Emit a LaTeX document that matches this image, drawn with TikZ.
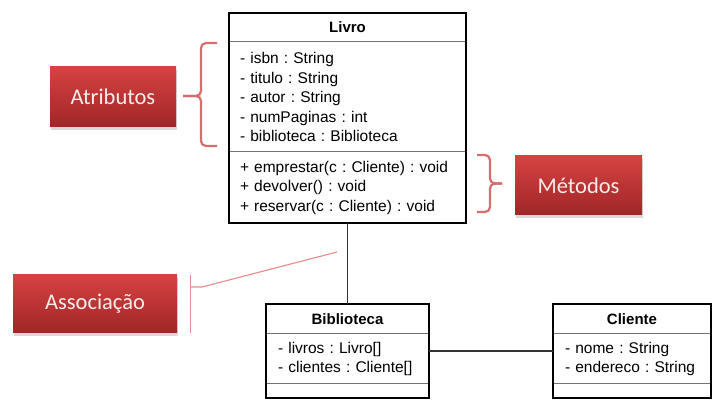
\documentclass[tikz,border=0pt]{standalone}
\usepackage{fontspec}
\setmainfont{Liberation Sans}
\newfontfamily\rotulofont{Carlito}
\usetikzlibrary{positioning, shadows}
\frenchspacing

\definecolor{rotuloalto}{RGB}{214,66,66}
\definecolor{rotulobaixo}{RGB}{160,38,38}
\definecolor{rotulotexto}{RGB}{247,236,236}
\definecolor{chave}{RGB}{214,110,110}
\definecolor{traco}{RGB}{226,140,140}

\begin{document}
\begin{tikzpicture}[x=1pt, y=-1pt,
	titulo/.style={rectangle, draw=black!55, line width=1pt, outer sep=0pt, inner sep=2pt, align=center, font=\fontsize{15}{19.5}\selectfont\bfseries},
	secao/.style={rectangle, draw=black!55, line width=1pt, outer sep=0pt, inner ysep=2pt, align=left, font=\fontsize{15.5}{19.5}\selectfont},
	moldura/.style={draw=black, line width=2.2pt},
	ligacao/.style={draw=black!80, line width=1.3pt},
	rotulo/.style={rectangle, top color=rotuloalto, bottom color=rotulobaixo, text=rotulotexto, font=\rotulofont\fontsize{22.5}{27}\selectfont, drop shadow={shadow xshift=1pt, shadow yshift=-3pt, opacity=0.3}},
	chaveta/.style={draw=chave, line width=2.2pt, rounded corners=5pt},
	fio/.style={draw=traco, line width=1.1pt}]
	\useasboundingbox (0,0) rectangle (724,414);
	\def\cx{347.5}
	\def\ky{319}
%%%% classe Livro
	\node[titulo, minimum width=237pt, minimum height=29pt] (livro) at (\cx,27.5) {Livro};
	\node[secao, text width=215pt, inner xsep=11pt, minimum height=110pt, below=0pt of livro] (livroattr)
	{- isbn : String\\- titulo : String\\- autor : String\\- numPaginas : int\\- biblioteca : Biblioteca};
	\node[secao, text width=215pt, inner xsep=11pt, minimum height=71pt, below=0pt of livroattr] (livroops)
	{+ emprestar(c : Cliente) : void\\+ devolver() : void\\+ reservar(c : Cliente) : void};
	\draw[moldura] (livro.north west) rectangle (livroops.south east);
%%%% classe Biblioteca
	\node[titulo, minimum width=163pt, minimum height=30pt] (biblio) at (\cx,\ky) {Biblioteca};
	\node[secao, text width=139pt, inner xsep=12pt, minimum height=50pt, below=0pt of biblio] (biblioattr)
	{- livros : Livro[]\\- clientes : Cliente[]};
	\node[secao, text width=139pt, inner xsep=12pt, minimum height=14pt, below=0pt of biblioattr] (biblioops) {};
	\draw[moldura] (biblio.north west) rectangle (biblioops.south east);
%%%% classe Cliente
	\node[titulo, minimum width=158pt, minimum height=30pt] (cliente) at (632,\ky) {Cliente};
	\node[secao, text width=134pt, inner xsep=12pt, minimum height=50pt, below=0pt of cliente] (clienteattr)
	{- nome : String\\- endereco : String};
	\node[secao, text width=134pt, inner xsep=12pt, minimum height=14pt, below=0pt of clienteattr] (clienteops) {};
	\draw[moldura] (cliente.north west) rectangle (clienteops.south east);
%%%% associacoes
	\draw[ligacao] (livroops.south) -- (biblio.north);
	\draw[ligacao] ([yshift=8pt]biblioattr.east) -- ([yshift=8pt]clienteattr.west);
%%%% rotulos
	\node[rotulo, minimum width=126pt, minimum height=60pt] (atributos) at (113,97) {Atributos};
	\node[rotulo, minimum width=127pt, minimum height=59pt] (metodos) at (578.5,185.5) {Métodos};
	\node[rotulo, minimum width=164pt, minimum height=58pt] (associacao) at (95,304) {Associação};
	\draw[chaveta] (217,43) -- (201,43) -- (201,96) -- (183,96);
	\draw[chaveta] (183,96) -- (201,96) -- (201,146) -- (217,146);
	\draw[chaveta] (477,155) -- (490,155) -- (490,183.5) -- (502,183.5);
	\draw[chaveta] (502,183.5) -- (490,183.5) -- (490,212) -- (477,212);
	\coordinate (assocalvo) at (337,252);
	\draw[fio] ([xshift=13pt]associacao.north east) -- ([xshift=13pt]associacao.south east);
	\draw[fio] (190,287) -- (202,287) -- (assocalvo);
\end{tikzpicture}
\end{document}
